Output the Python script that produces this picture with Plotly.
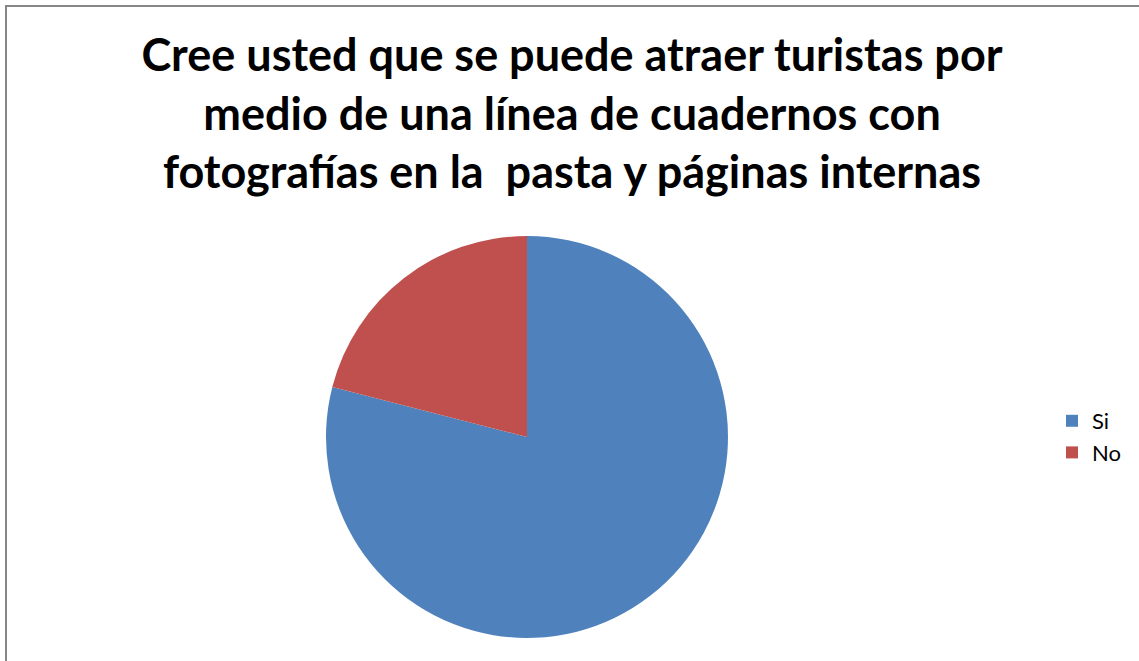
import plotly.graph_objects as go

W, H = 1139, 661

labels = ["Si", "No"]
values = [79, 21]
colors = ["#4F81BD", "#C0504D"]

title_text = (
    "Cree usted que se puede atraer turistas por<br>"
    "medio de una línea de cuadernos con<br>"
    "fotografías en la  pasta y páginas internas"
)

# pie placement in pixels (center x, center y from top, radius)
cx, cy, r = 527, 437, 201

fig = go.Figure(
    go.Pie(
        labels=labels,
        values=values,
        marker=dict(colors=colors, line=dict(width=0)),
        sort=False,
        direction="clockwise",
        rotation=0,
        textinfo="none",
        hoverinfo="label+value+percent",
        domain=dict(x=[(cx - r) / W, (cx + r) / W], y=[(H - cy - r) / H, (H - cy + r) / H]),
    )
)

fig.update_layout(
    width=W,
    height=H,
    margin=dict(l=0, r=0, t=0, b=0),
    paper_bgcolor="white",
    font=dict(family="Lato, Noto Sans, sans-serif", color="black"),
    title=dict(
        text=title_text,
        x=572 / W,
        xanchor="center",
        y=1 - 71 / H,
        yanchor="top",
        font=dict(size=45, family="Lato, sans-serif", weight="bold"),
    ),
    legend=dict(
        x=1052 / W,
        y=1 - 437 / H,
        xanchor="left",
        yanchor="middle",
        font=dict(size=22),
        itemwidth=30,
    ),
    shapes=[
        dict(
            type="rect",
            xref="paper",
            yref="paper",
            x0=6 / W,
            x1=1.02,
            y0=-0.02,
            y1=1 - 6 / H,
            line=dict(color="#878787", width=2),
        )
    ],
)

fig.write_html(
    "out.html",
    config={"displayModeBar": False},
    post_script="document.body.style.margin='0';",
)
